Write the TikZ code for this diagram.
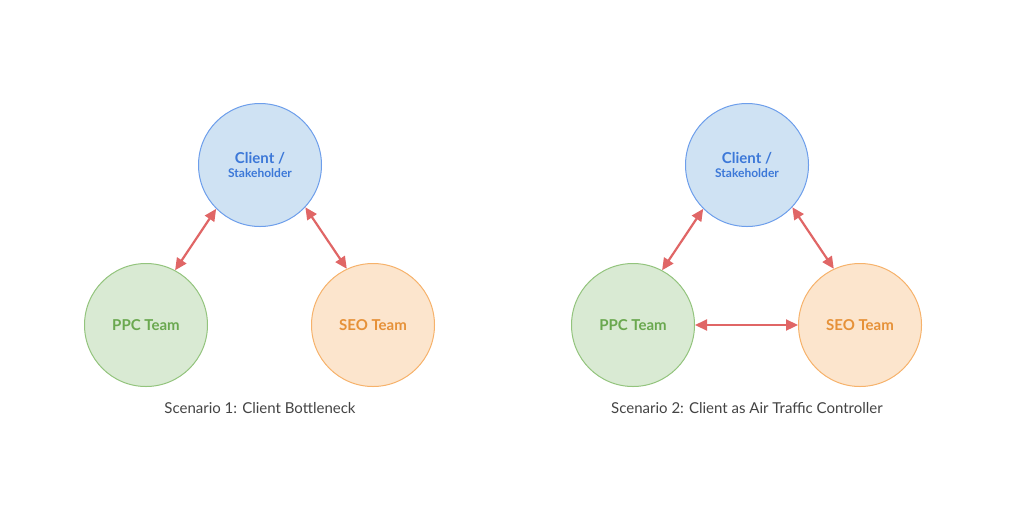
\documentclass[tikz,border=0pt]{standalone}
\usepackage{fontspec}
\setmainfont{Lato}
\usetikzlibrary{arrows.meta}
\definecolor{clientfill}{HTML}{CFE2F3}
\definecolor{clientline}{HTML}{6D9EEB}
\definecolor{clienttext}{HTML}{3C78D8}
\definecolor{ppcfill}{HTML}{D9EAD3}
\definecolor{ppcline}{HTML}{93C47D}
\definecolor{ppctext}{HTML}{6AA84F}
\definecolor{seofill}{HTML}{FCE5CD}
\definecolor{seoline}{HTML}{F6B26B}
\definecolor{seotext}{HTML}{E69138}
\definecolor{link}{HTML}{E06666}
\definecolor{caption}{HTML}{434343}
\tikzset{
  team/.style={circle,draw,line width=1pt,minimum size=123pt,inner sep=0pt,
    font=\bfseries\fontsize{15}{17}\selectfont,align=center},
  client/.style={team,fill=clientfill,draw=clientline,text=clienttext},
  ppc/.style={team,fill=ppcfill,draw=ppcline,text=ppctext},
  seo/.style={team,fill=seofill,draw=seoline,text=seotext},
  link/.style={{Triangle[length=12pt,width=11pt]}-{Triangle[length=12pt,width=11pt]},
    draw=link,fill=link,line width=2.2pt},
  caption/.style={text=caption,font=\fontsize{15}{17}\selectfont},
}
\begin{document}
\begin{tikzpicture}[x=1pt,y=-1pt]
  \useasboundingbox (0,0) rectangle (1024,504);
  % scenario 1
  \node [client] (client1) at (260,165)
    {Client /\\[-3pt]{\fontsize{12}{13}\selectfont Stakeholder}};
  \node [ppc] (ppc1) at (146,325) {PPC Team};
  \node [seo] (seo1) at (373,325) {SEO Team};
  \draw [link] (ppc1.62) -- (client1.225);
  \draw [link] (client1.317) -- (seo1.115);
  \node [caption] (cap1) at (260,408) {Scenario 1: Client Bottleneck};
  % scenario 2
  \node [client] (client2) at (747,165)
    {Client /\\[-3pt]{\fontsize{12}{13}\selectfont Stakeholder}};
  \node [ppc] (ppc2) at (633,325) {PPC Team};
  \node [seo] (seo2) at (860,325) {SEO Team};
  \draw [link] (ppc2.62) -- (client2.225);
  \draw [link] (client2.317) -- (seo2.115);
  \draw [link] (ppc2) -- (seo2);
  \node [caption] (cap2) at (747,408) {Scenario 2: Client as Air Traffic Controller};
\end{tikzpicture}
\end{document}
